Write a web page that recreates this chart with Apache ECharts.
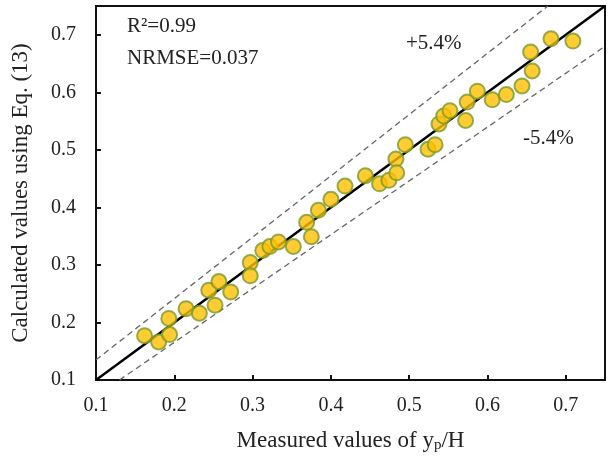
<!DOCTYPE html>
<html>
<head>
<meta charset="utf-8">
<script src="https://cdn.jsdelivr.net/npm/echarts@6/dist/echarts.min.js"></script>
<style>
  html, body { margin: 0; padding: 0; background: #fff; }
</style>
</head>
<body>
<div id="main" style="width:608px;height:458px;"></div>
<script>
// measured vs calculated y_p/H
const measured = [
  0.162, 0.180, 0.194, 0.193, 0.215, 0.232, 0.244, 0.257, 0.252, 0.272, 0.297, 0.297,
  0.313, 0.322, 0.333, 0.352, 0.369, 0.375, 0.384, 0.400, 0.418, 0.444, 0.462, 0.474,
  0.483, 0.484, 0.495, 0.524, 0.533, 0.538, 0.544, 0.552, 0.572, 0.574, 0.587, 0.606,
  0.624, 0.644, 0.657, 0.655, 0.681, 0.709
];
const calculated = [
  0.177, 0.166, 0.179, 0.207, 0.224, 0.216, 0.256, 0.271, 0.230, 0.253, 0.304, 0.281,
  0.325, 0.332, 0.340, 0.332, 0.374, 0.349, 0.395, 0.414, 0.437, 0.455, 0.441, 0.447,
  0.484, 0.460, 0.509, 0.501, 0.509, 0.545, 0.559, 0.568, 0.551, 0.583, 0.602, 0.587,
  0.596, 0.611, 0.637, 0.670, 0.693, 0.689
];
const oneToOne = [[0.1, 0.1], [0.75, 0.75]];
const upperBand = [[0.1, 0.135], [0.677, 0.75]];
const lowerBand = [[0.13, 0.1], [0.75, 0.68]];
const axisTicks = [0.1, 0.2, 0.3, 0.4, 0.5, 0.6, 0.7];

const points = measured.map((m, i) => [m, calculated[i]]);
const serif = 'Liberation Serif, Times New Roman, serif';
const txt = '#222';

const chart = echarts.init(document.getElementById('main'));
chart.setOption({
  animation: false,
  grid: {
    left: 96, top: 6, right: 0, bottom: 75,
    show: true, borderColor: '#111', borderWidth: 2
  },
  xAxis: {
    type: 'value', min: 0.1, max: 0.75, interval: 0.1,
    axisLine: { onZero: false, lineStyle: { color: '#111', width: 2 } },
    axisTick: { inside: true, length: 5, lineStyle: { color: '#111', width: 2 } },
    splitLine: { show: false },
    axisLabel: {
      fontFamily: serif, fontSize: 20, color: txt, margin: 16,
      formatter: v => axisTicks.some(t => Math.abs(t - v) < 1e-6) ? v.toFixed(1) : ''
    },
    name: 'Measured values of y{sub|p}/H',
    nameLocation: 'middle', nameGap: 48,
    nameTextStyle: {
      fontFamily: serif, fontSize: 23, color: txt,
      rich: { sub: { fontFamily: serif, fontSize: 15, color: txt, verticalAlign: 'bottom', padding: [10, 0, 0, 0] } }
    }
  },
  yAxis: {
    type: 'value', min: 0.1, max: 0.75, interval: 0.1,
    axisLine: { onZero: false, lineStyle: { color: '#111', width: 2 } },
    axisTick: { inside: true, length: 5, lineStyle: { color: '#111', width: 2 } },
    splitLine: { show: false },
    axisLabel: {
      fontFamily: serif, fontSize: 20, color: txt, margin: 20,
      formatter: v => axisTicks.some(t => Math.abs(t - v) < 1e-6) ? v.toFixed(1) : ''
    },
    name: 'Calculated values using Eq. (13)',
    nameLocation: 'middle', nameGap: 64,
    nameTextStyle: { fontFamily: serif, fontSize: 23, color: txt }
  },
  graphic: [
    { type: 'text', left: 127, top: 16, style: { text: 'R²=0.99', font: '21px ' + serif, fill: txt } },
    { type: 'text', left: 127, top: 48, style: { text: 'NRMSE=0.037', font: '21px ' + serif, fill: txt } },
    { type: 'text', left: 406, top: 33, style: { text: '+5.4%', font: '21px ' + serif, fill: txt } },
    { type: 'text', left: 523, top: 128, style: { text: '-5.4%', font: '21px ' + serif, fill: txt } }
  ],
  series: [
    {
      type: 'line', data: upperBand, symbol: 'none', silent: true,
      lineStyle: { color: '#666', width: 1.3, type: [6, 4] }
    },
    {
      type: 'line', data: lowerBand, symbol: 'none', silent: true,
      lineStyle: { color: '#666', width: 1.3, type: [6, 4] }
    },
    {
      type: 'line', data: oneToOne, symbol: 'none', silent: true,
      lineStyle: { color: '#000', width: 2.5 }
    },
    {
      type: 'scatter', data: points, symbol: 'circle', symbolSize: 15, z: 5,
      itemStyle: { color: '#FFC000', borderColor: '#7A9A2A', borderWidth: 2 }
    }
  ]
});
</script>
</body>
</html>
